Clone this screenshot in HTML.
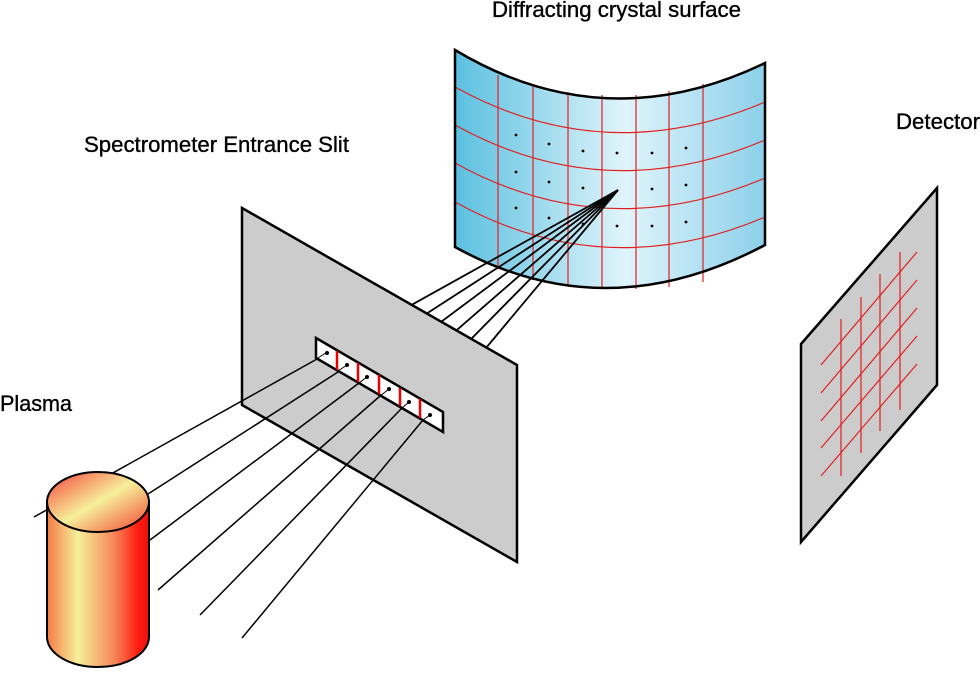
<!DOCTYPE html>
<html><head><meta charset="utf-8"><style>
body{margin:0;background:#fff;}
svg{display:block}
text{font-family:"Liberation Sans",Arial,sans-serif;font-size:22px;fill:#000;stroke:#000;stroke-width:0.35;}
</style></head><body>
<svg width="980" height="673" viewBox="0 0 980 673" xmlns="http://www.w3.org/2000/svg">
<defs>
<linearGradient id="cg" x1="0" x2="1" y1="0" y2="0">
<stop offset="0" stop-color="#5bc0e0"/>
<stop offset="0.55" stop-color="#e0f4fb"/>
<stop offset="1" stop-color="#8cd0ea"/>
</linearGradient>
<linearGradient id="pg" x1="0" x2="1" y1="0" y2="0">
<stop offset="0" stop-color="#f57a45"/>
<stop offset="0.3" stop-color="#f6f09a"/>
<stop offset="0.65" stop-color="#f68a5a"/>
<stop offset="0.9" stop-color="#ff1a10"/>
<stop offset="1" stop-color="#e81010"/>
</linearGradient>
<linearGradient id="pt" x1="0" x2="1" y1="0" y2="1">
<stop offset="0" stop-color="#f5403a"/>
<stop offset="0.5" stop-color="#f6f09a"/>
<stop offset="1" stop-color="#f34030"/>
</linearGradient>
</defs>

<text x="492" y="17" textLength="249" lengthAdjust="spacingAndGlyphs">Diffracting crystal surface</text>
<text x="84" y="152" textLength="265" lengthAdjust="spacingAndGlyphs">Spectrometer Entrance Slit</text>
<text x="896" y="129" textLength="84" lengthAdjust="spacingAndGlyphs">Detector</text>
<text x="0" y="411" textLength="72" lengthAdjust="spacingAndGlyphs">Plasma</text>

<!-- crystal -->
<path d="M455,50 Q605,140 765,63 L765,245 Q605,330 455,247 Z" fill="url(#cg)"/>
<g stroke="#e02020" stroke-width="1.2" fill="none">
<line x1="498" y1="75" x2="498" y2="268"/>
<line x1="533" y1="86" x2="533" y2="280"/>
<line x1="568" y1="92" x2="568" y2="286"/>
<line x1="602" y1="95" x2="602" y2="289"/>
<line x1="636" y1="95" x2="636" y2="289"/>
<line x1="669" y1="91" x2="669" y2="287"/>
<line x1="703" y1="84" x2="703" y2="282"/>
<path d="M455,87 Q605,170 765,102"/>
<path d="M455,125 Q605,208 765,140"/>
<path d="M455,163 Q605,246 765,178"/>
<path d="M455,202 Q605,285 765,217"/>
</g>
<g fill="#000">
<circle cx="516" cy="135" r="1.4"/><circle cx="549" cy="144" r="1.4"/><circle cx="583" cy="151" r="1.4"/><circle cx="617" cy="153" r="1.4"/><circle cx="652" cy="153" r="1.4"/><circle cx="686" cy="148" r="1.4"/>
<circle cx="516" cy="172" r="1.4"/><circle cx="549" cy="182" r="1.4"/><circle cx="583" cy="188" r="1.4"/><circle cx="652" cy="189" r="1.4"/><circle cx="686" cy="185" r="1.4"/>
<circle cx="516" cy="208" r="1.4"/><circle cx="549" cy="218" r="1.4"/><circle cx="583" cy="224" r="1.4"/><circle cx="617" cy="226" r="1.4"/><circle cx="652" cy="226" r="1.4"/><circle cx="686" cy="222" r="1.4"/>
</g>
<path d="M455,50 Q605,140 765,63 L765,245 Q605,330 455,247 Z" fill="none" stroke="#000" stroke-width="2.5"/>

<!-- beam to crystal -->
<g stroke="#000" stroke-width="1.8">
<line x1="327" y1="352" x2="618" y2="190"/>
<line x1="347" y1="365" x2="618" y2="190"/>
<line x1="367" y1="377" x2="618" y2="190"/>
<line x1="389" y1="389" x2="618" y2="190"/>
<line x1="409" y1="402" x2="618" y2="190"/>
<line x1="430" y1="415" x2="618" y2="190"/>
</g>

<!-- plate -->
<polygon points="242,208 517,365 517,562 242,405" fill="#cccccc" stroke="#000" stroke-width="2.5"/>
<!-- slit -->
<polygon points="316,338 443,412 443,432 316,358" fill="#fff" stroke="#000" stroke-width="2.5"/>
<g stroke="#e00" stroke-width="2.5">
<line x1="337" y1="351" x2="337" y2="370"/>
<line x1="358" y1="363" x2="358" y2="382"/>
<line x1="379" y1="375" x2="379" y2="394"/>
<line x1="400" y1="388" x2="400" y2="406"/>
<line x1="420" y1="399" x2="420" y2="418"/>
</g>
<g stroke="#000" stroke-width="1">
<line x1="318" y1="358" x2="327" y2="352"/><line x1="338" y1="371" x2="347" y2="365"/><line x1="359" y1="383" x2="367" y2="377"/><line x1="380" y1="396" x2="389" y2="389"/><line x1="402" y1="408" x2="409" y2="402"/><line x1="423" y1="420" x2="430" y2="415"/>
</g>
<g fill="#000">
<circle cx="327" cy="353" r="2"/><circle cx="347" cy="365" r="2"/><circle cx="367" cy="377" r="2"/><circle cx="389" cy="389" r="2"/><circle cx="409" cy="402" r="2"/><circle cx="430" cy="415" r="2"/>
</g>

<!-- rays from plasma -->
<g stroke="#000" stroke-width="1.5">
<line x1="34" y1="517" x2="317" y2="359"/>
<line x1="148" y1="494" x2="338" y2="372"/>
<line x1="150" y1="540" x2="359" y2="383"/>
<line x1="158" y1="590" x2="380" y2="396"/>
<line x1="200" y1="615" x2="402" y2="408"/>
<line x1="242" y1="638" x2="423" y2="420"/>
</g>

<!-- cylinder -->
<path d="M47,502 L47,637 A51,30 0 0 0 149,637 L149,502 Z" fill="url(#pg)" stroke="#000" stroke-width="2"/>
<ellipse cx="98" cy="502" rx="51" ry="30" fill="url(#pt)" stroke="#000" stroke-width="2"/>

<!-- detector -->
<polygon points="801,344 937,188 937,385 801,542" fill="#cccccc" stroke="#000" stroke-width="2.5"/>
<g stroke="#e02020" stroke-width="1.2">
<line x1="841" y1="319" x2="841" y2="476"/>
<line x1="861" y1="297" x2="861" y2="453"/>
<line x1="880" y1="274" x2="880" y2="431"/>
<line x1="900" y1="252" x2="900" y2="410"/>
<line x1="821" y1="365" x2="917" y2="252"/>
<line x1="821" y1="393" x2="917" y2="280"/>
<line x1="821" y1="421" x2="917" y2="308"/>
<line x1="821" y1="448" x2="917" y2="336"/>
<line x1="821" y1="476" x2="917" y2="364"/>
</g>
</svg>
</body></html>
